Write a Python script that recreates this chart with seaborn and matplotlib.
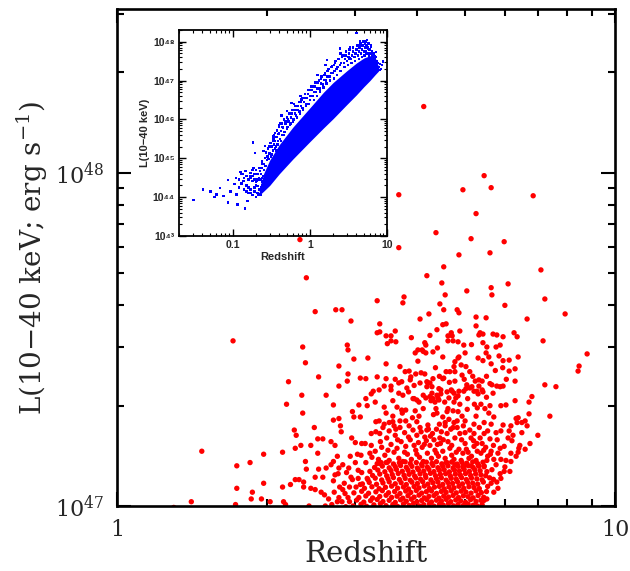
import matplotlib
matplotlib.use("Agg")
import matplotlib.pyplot as plt
import numpy as np
import pandas as pd
import seaborn as sns
from matplotlib.ticker import FixedLocator, FixedFormatter, LogLocator, NullFormatter

# ---------------- main panel data: (redshift, L / 1e47 erg s^-1) ----------------
red_bright = [
    (4.13, 15.8), (3.68, 8.59), (5.46, 9.80), (5.64, 9.02), (4.95, 8.89), (6.85, 8.53),
    (5.26, 7.54), (4.37, 6.61), (5.14, 6.34), (5.99, 6.21), (3.68, 5.96), (5.61, 5.75),
    (4.86, 5.67), (4.53, 5.22), (7.10, 5.11), (4.19, 4.91), (4.49, 4.67), (6.10, 4.64),
    (5.64, 4.52), (3.77, 4.24), (4.56, 4.30), (5.66, 4.30), (5.04, 4.42), (7.23, 4.18),
    (3.75, 4.07), (4.45, 4.04), (6.01, 4.00), (4.53, 3.88), (4.82, 3.88), (4.86, 3.80),
    (7.94, 3.77), (4.23, 3.77), (5.26, 3.69), (5.51, 3.67), (4.06, 3.64), (6.66, 3.64),
    (4.51, 3.50), (4.58, 3.52), (5.26, 3.47), (4.39, 3.38), (4.88, 3.35), (3.37, 3.52),
    (3.37, 3.33), (5.36, 3.31), (5.43, 3.28), (5.33, 3.26), (4.62, 3.24), (4.69, 3.31),
    (4.71, 3.24), (5.69, 3.28), (5.79, 3.26), (5.96, 3.22), (6.27, 3.31), (6.36, 3.22),
    (3.47, 3.24), (3.55, 3.24), (3.55, 3.13), (3.63, 3.11), (3.49, 3.07), (4.62, 3.13),
    (4.73, 3.13), (4.84, 3.11), (4.15, 3.09), (4.17, 3.04), (4.97, 3.04), (5.43, 3.09),
    (5.53, 3.00), (5.77, 3.00), (5.88, 3.04), (7.17, 3.13), (4.02, 2.94), (4.10, 2.94),
    (3.97, 2.88), (4.12, 2.91), (4.17, 2.88), (4.31, 2.90), (4.51, 2.80), (4.84, 2.78),
    (5.00, 2.88), (5.31, 2.78), (5.51, 2.88), (5.58, 2.80), (5.85, 2.82), (6.39, 2.80),
    (6.13, 2.74), (5.96, 2.73), (5.43, 2.73), (5.64, 2.67), (6.30, 2.58), (6.13, 2.54),
    (6.30, 2.37), (5.88, 2.28), (5.96, 2.29), (5.79, 2.29), (5.61, 2.33), (5.33, 2.39),
    (5.33, 2.29), (5.41, 2.23), (5.28, 2.21), (5.04, 2.31), (5.11, 2.26), (4.97, 2.21),
    (4.86, 2.21), (4.71, 2.21), (4.64, 2.11), (4.47, 2.17), (4.60, 2.20), (4.41, 2.11),
    (4.43, 2.08), (4.25, 2.13), (4.31, 2.10), (4.35, 2.05), (4.12, 2.15), (4.17, 2.11),
    (3.95, 2.10), (4.04, 2.05), (3.75, 2.15), (3.68, 2.18), (3.55, 2.23), (3.58, 2.07),
    (3.47, 2.41), (3.47, 2.67), (3.79, 2.53), (3.86, 2.54), (3.89, 2.44), (4.08, 2.51),
    (4.15, 2.49), (4.19, 2.36), (4.25, 2.34), (4.06, 2.34), (3.98, 2.49), (3.82, 2.26),
    (4.58, 2.53), (4.66, 2.53), (4.75, 2.62), (4.77, 2.53), (4.91, 2.65), (4.93, 2.47),
    (5.02, 2.62), (5.11, 2.53), (5.24, 2.37), (4.51, 2.41), (4.43, 2.25), (4.31, 2.41),
    (4.77, 2.37), (4.77, 2.71), (4.86, 2.80), (4.53, 2.42), (4.21, 2.34), (3.73, 2.36),
    (3.88, 2.39), (8.79, 2.86), (8.47, 2.63), (8.43, 2.54), (7.23, 2.31), (7.61, 2.28),
    (7.40, 1.86), (7.00, 1.63), (6.72, 1.89), (6.81, 2.13), (6.72, 2.05), (6.75, 1.54),
    (6.60, 1.48), (6.50, 1.78), (6.60, 1.80), (6.66, 1.74), (6.39, 1.84), (6.36, 1.78),
    (6.50, 1.66), (6.44, 1.52), (6.33, 1.41), (6.39, 1.45), (6.18, 1.36), (6.15, 1.27),
    (5.99, 1.27), (6.01, 1.31), (5.88, 1.25), (5.90, 1.21), (5.79, 1.18), (5.82, 1.13),
    (5.64, 1.17), (5.71, 1.10), (5.46, 1.04), (5.53, 1.05), (5.41, 1.01), (5.29, 1.00),
    (3.62, 3.35), (3.90, 3.20), (4.25, 3.25), (4.40, 2.98), (5.15, 3.05), (5.95, 2.60),
    (6.05, 2.40), (3.62, 2.40), (3.70, 2.62), (3.95, 2.30), (4.02, 2.72), (4.36, 2.60),
    (4.44, 2.45), (4.65, 2.35), (4.98, 2.40), (5.18, 2.45), (5.52, 2.45), (5.75, 2.55),
]

red_low_z = [
    (1.71, 3.13), (2.36, 3.00), (2.39, 2.69), (2.40, 4.84), (1.48, 1.46), (1.41, 1.03),
    (1.30, 0.99), (1.74, 1.32), (1.85, 1.35), (1.97, 1.43), (2.15, 1.45), (1.97, 1.17),
    (1.74, 1.13), (1.87, 1.10), (1.86, 1.05), (1.95, 1.05), (1.73, 1.01), (2.03, 1.03),
    (2.16, 1.03), (2.18, 1.01), (2.15, 1.14), (2.23, 1.16), (2.28, 1.20), (2.32, 1.20),
    (2.27, 1.69), (2.29, 1.63), (2.28, 1.49), (2.34, 1.52), (2.19, 2.02), (2.35, 2.15),
    (2.21, 2.36), (2.36, 1.90), (2.49, 1.72), (2.53, 1.59), (2.59, 1.59), (2.54, 2.44),
    (2.63, 2.15), (2.72, 2.01), (2.72, 1.81), (2.79, 1.83), (2.81, 1.74), (2.79, 2.63),
    (2.79, 2.29), (2.90, 3.04), (2.91, 2.94), (2.99, 2.76), (2.91, 2.49), (2.90, 2.37),
    (2.95, 3.59), (3.19, 2.78), (3.08, 2.42), (3.16, 2.41), (2.50, 3.83), (2.75, 3.88),
    (2.83, 3.88), (3.33, 4.13), (3.33, 3.31), (3.33, 2.44), (3.68, 2.34), (2.33, 6.30),
    (2.45, 1.52), (2.39, 1.36), (2.53, 1.44), (2.69, 1.56), (2.74, 1.52), (2.72, 1.36),
    (2.69, 1.33), (2.77, 1.41), (2.79, 1.30), (2.78, 1.25), (2.63, 1.30), (2.54, 1.29),
    (2.59, 1.22), (2.50, 1.22), (2.40, 1.29), (2.74, 1.24), (2.72, 1.19), (2.37, 1.18),
    (2.45, 1.13), (2.50, 1.12), (2.37, 1.14), (2.61, 1.08), (2.57, 1.10), (2.66, 1.05),
    (2.77, 1.03), (2.83, 1.03), (2.87, 1.09), (2.91, 1.06), (2.93, 1.14), (3.02, 1.14),
    (3.08, 1.16), (3.05, 1.21), (2.95, 1.22), (2.97, 1.20), (2.82, 1.67), (2.96, 1.60),
    (3.01, 1.55), (3.10, 1.54), (3.15, 1.54), (3.24, 1.52), (3.04, 1.43), (3.09, 1.42),
    (3.22, 1.44), (3.39, 1.35), (3.47, 1.35), (3.33, 1.34), (3.16, 1.35), (3.01, 1.35),
    (3.05, 1.28), (3.10, 1.26), (3.18, 1.21), (2.43, 1.00), (2.62, 1.00), (2.88, 0.995),
    (2.70, 1.01), (2.79, 1.06), (2.84, 1.12), (2.73, 1.10), (2.86, 1.17), (2.80, 1.14),
    (2.89, 1.26), (2.84, 1.33), (2.92, 1.30), (2.94, 1.41),
]

red_mid = [
    (2.97, 1.92), (2.99, 1.85), (3.08, 1.85), (3.06, 2.01), (3.18, 2.00), (3.16, 2.10),
    (3.24, 2.17), (3.27, 2.21), (3.36, 2.23), (3.44, 2.29), (3.55, 2.29), (3.30, 2.05),
    (3.44, 1.98), (3.47, 1.90), (3.65, 1.98), (3.80, 1.94), (3.73, 1.94), (3.58, 1.79),
    (3.52, 1.78), (3.44, 1.76), (3.36, 1.80), (3.31, 1.79), (3.31, 1.67), (3.37, 1.65),
    (3.24, 1.65), (3.60, 1.74), (3.63, 1.70), (3.70, 1.80), (3.80, 1.80), (4.00, 1.79),
    (3.93, 2.10), (4.00, 2.08), (3.97, 1.93), (4.04, 1.86), (4.19, 2.28), (4.27, 2.07),
    (4.29, 2.18), (4.39, 2.15), (4.29, 2.28), (4.47, 2.23), (4.37, 1.96), (4.39, 1.90),
    (4.51, 1.85), (4.60, 1.92), (4.21, 1.75), (4.19, 1.69), (4.75, 2.05), (4.79, 2.11),
    (4.69, 2.23), (4.62, 1.96), (4.73, 1.93), (4.75, 1.78), (4.56, 1.74), (4.73, 1.72),
    (4.75, 2.18), (4.84, 2.14), (5.02, 2.25), (5.16, 2.28), (5.21, 2.21), (5.31, 2.17),
    (5.43, 2.20), (5.41, 2.37), (5.66, 2.31), (5.69, 2.18), (5.38, 2.02), (5.29, 1.97),
    (5.48, 1.96), (5.61, 2.00), (5.90, 2.00), (6.04, 2.01), (6.30, 2.07), (4.88, 2.02),
    (4.56, 1.78), (4.82, 1.80), (4.93, 1.86), (5.00, 1.80), (5.21, 1.76), (5.46, 1.78),
    (5.71, 1.85), (5.64, 1.76), (5.96, 1.75), (6.18, 1.74), (6.33, 1.83), (6.13, 1.68),
    (6.24, 1.63), (5.90, 1.68), (5.77, 1.66), (5.36, 1.60), (5.46, 1.65), (5.21, 1.65),
    (5.11, 1.69), (5.00, 1.66), (4.82, 1.72), (4.88, 1.65), (4.77, 1.60), (4.60, 1.65),
    (5.61, 1.59), (6.10, 1.60), (6.21, 1.57), (6.41, 1.49), (5.88, 1.49), (5.99, 1.51),
    (5.64, 1.46), (5.41, 1.54), (5.21, 1.51), (5.29, 1.46), (5.00, 1.54), (5.07, 1.45),
    (4.86, 1.48), (4.66, 1.49), (4.51, 1.46), (6.18, 1.44), (6.04, 1.37), (5.90, 1.38),
    (5.71, 1.38), (5.77, 1.33), (5.53, 1.37), (5.46, 1.32), (5.26, 1.37), (5.33, 1.32),
    (5.09, 1.39), (5.14, 1.32), (4.91, 1.37), (4.97, 1.32), (4.75, 1.38), (4.77, 1.33),
    (4.58, 1.35), (4.56, 1.39),
    (3.35, 1.38), (3.45, 1.42), (3.52, 1.37), (3.60, 1.45), (3.68, 1.39), (3.75, 1.36),
    (3.83, 1.43), (3.90, 1.38), (3.98, 1.47), (4.05, 1.40), (4.12, 1.36), (4.20, 1.44),
    (4.28, 1.39), (4.35, 1.47), (4.42, 1.41), (3.40, 1.50), (3.55, 1.53), (3.65, 1.49),
    (3.72, 1.56), (3.80, 1.51), (3.88, 1.58), (3.95, 1.52), (4.03, 1.55), (4.10, 1.50),
    (4.18, 1.57), (4.25, 1.52), (4.33, 1.58), (4.40, 1.53), (3.48, 1.60), (3.62, 1.63),
    (3.78, 1.66), (3.85, 1.61), (3.93, 1.69), (4.00, 1.63), (4.08, 1.67), (4.15, 1.61),
    (4.30, 1.65), (4.38, 1.70), (3.70, 1.72), (4.22, 1.70), (3.52, 1.68), (4.45, 1.60),
    (4.48, 1.67), (3.30, 1.46), (3.25, 1.40), (4.70, 1.42), (4.95, 1.44), (5.15, 1.41),
    (5.38, 1.44), (5.55, 1.41), (5.20, 1.57), (4.92, 1.58), (5.70, 1.52), (4.62, 1.56),
    (5.50, 1.50),
    (3.42, 1.72), (3.58, 1.86), (3.66, 1.58), (3.74, 1.90), (3.86, 1.74), (3.92, 1.84),
    (4.06, 1.72), (4.12, 1.96), (4.26, 1.62), (4.32, 1.88), (4.44, 1.76), (4.52, 1.58),
    (4.64, 1.82), (4.68, 1.70), (4.84, 1.92), (4.96, 1.74), (5.05, 1.95), (5.14, 1.60),
    (5.26, 1.86), (5.34, 1.72), (5.55, 1.68), (5.58, 1.90), (5.80, 1.58), (3.38, 1.56),
    (3.50, 1.47), (3.78, 1.45), (4.00, 1.43), (4.14, 1.53), (4.38, 1.44), (4.46, 1.54),
    (4.70, 1.52), (4.80, 1.45), (5.03, 1.48), (5.28, 1.54), (5.45, 1.47), (5.62, 1.43),
    (5.82, 1.44), (3.85, 2.20), (4.55, 2.05), (5.06, 2.10), (5.22, 2.02), (5.52, 2.12),
]

red_crowd = [
    (2.98, 1.000), (3.09, 1.012), (3.17, 0.998), (3.28, 1.008), (3.38, 1.016), (3.47, 1.002),
    (3.58, 1.010), (3.66, 0.997), (3.76, 1.014), (3.86, 1.004), (3.94, 1.018), (4.05, 1.000),
    (4.13, 1.009), (4.24, 1.015), (4.33, 0.999), (4.44, 1.011), (4.52, 1.006), (4.63, 1.017),
    (4.74, 1.001), (4.84, 1.010), (4.96, 1.003), (5.07, 1.013), (5.19, 1.005),
    (2.93, 1.030), (3.03, 1.042), (3.13, 1.027), (3.23, 1.038), (3.33, 1.046), (3.42, 1.031),
    (3.52, 1.040), (3.62, 1.025), (3.71, 1.044), (3.81, 1.033), (3.90, 1.048), (4.00, 1.029),
    (4.09, 1.039), (4.19, 1.045), (4.28, 1.028), (4.38, 1.041), (4.48, 1.034), (4.58, 1.047),
    (4.68, 1.030), (4.79, 1.043), (4.90, 1.036), (5.01, 1.026), (5.13, 1.045), (5.26, 1.032),
    (5.38, 1.040),
    (3.06, 1.060), (3.16, 1.072), (3.26, 1.057), (3.37, 1.068), (3.47, 1.077), (3.56, 1.061),
    (3.65, 1.070), (3.75, 1.055), (3.84, 1.074), (3.95, 1.063), (4.04, 1.078), (4.14, 1.058),
    (4.23, 1.069), (4.33, 1.075), (4.43, 1.056), (4.53, 1.071), (4.63, 1.064), (4.73, 1.076),
    (4.85, 1.060), (4.96, 1.073), (5.07, 1.066), (5.19, 1.058), (5.31, 1.075), (5.45, 1.062),
    (2.99, 1.095), (3.10, 1.107), (3.20, 1.092), (3.31, 1.103), (3.41, 1.112), (3.51, 1.096),
    (3.61, 1.105), (3.70, 1.090), (3.80, 1.109), (3.89, 1.098), (3.99, 1.113), (4.09, 1.093),
    (4.18, 1.104), (4.28, 1.110), (4.38, 1.091), (4.48, 1.106), (4.58, 1.099), (4.69, 1.111),
    (4.80, 1.095), (4.91, 1.108), (5.02, 1.101), (5.14, 1.093), (5.26, 1.110), (5.39, 1.097),
    (5.52, 1.105),
    (3.14, 1.130), (3.25, 1.142), (3.36, 1.127), (3.46, 1.138), (3.56, 1.147), (3.66, 1.131),
    (3.76, 1.140), (3.85, 1.125), (3.95, 1.144), (4.04, 1.133), (4.14, 1.148), (4.24, 1.128),
    (4.34, 1.139), (4.44, 1.145), (4.54, 1.126), (4.64, 1.141), (4.75, 1.134), (4.86, 1.146),
    (4.97, 1.130), (5.09, 1.143), (5.21, 1.136), (5.34, 1.128), (5.55, 1.145),
    (3.11, 1.165), (3.21, 1.177), (3.32, 1.162), (3.42, 1.173), (3.52, 1.182), (3.62, 1.166),
    (3.72, 1.175), (3.81, 1.160), (3.91, 1.179), (4.01, 1.168), (4.11, 1.183), (4.21, 1.163),
    (4.31, 1.174), (4.41, 1.180), (4.51, 1.161), (4.62, 1.176), (4.72, 1.169), (4.83, 1.181),
    (4.94, 1.165), (5.06, 1.178), (5.18, 1.171), (5.30, 1.163), (5.44, 1.180),
    (3.19, 1.200), (3.30, 1.212), (3.40, 1.197), (3.50, 1.208), (3.59, 1.217), (3.69, 1.201),
    (3.79, 1.210), (3.88, 1.195), (3.98, 1.214), (4.07, 1.203), (4.17, 1.218), (4.27, 1.198),
    (4.38, 1.209), (4.48, 1.215), (4.58, 1.196), (4.69, 1.211), (4.80, 1.204), (4.92, 1.216),
    (5.03, 1.200), (5.15, 1.213), (5.28, 1.206), (5.41, 1.198), (5.60, 1.215), (5.70, 1.202),
    (3.26, 1.235), (3.37, 1.247), (3.48, 1.232), (3.57, 1.243), (3.67, 1.252), (3.77, 1.236),
    (3.86, 1.245), (3.96, 1.230), (4.06, 1.249), (4.16, 1.238), (4.26, 1.253), (4.36, 1.233),
    (4.46, 1.244), (4.57, 1.250), (4.67, 1.231), (4.78, 1.246), (4.89, 1.239), (5.01, 1.251),
    (5.13, 1.235), (5.25, 1.248), (5.38, 1.241), (5.50, 1.233),
    (3.22, 1.270), (3.34, 1.282), (3.45, 1.267), (3.55, 1.278), (3.64, 1.287), (3.74, 1.271),
    (3.84, 1.280), (3.93, 1.265), (4.03, 1.284), (4.13, 1.273), (4.23, 1.288), (4.33, 1.268),
    (4.44, 1.279), (4.54, 1.285), (4.65, 1.266), (4.76, 1.281), (4.87, 1.274), (4.98, 1.286),
    (5.10, 1.270), (5.23, 1.283), (5.36, 1.276), (5.53, 1.268), (5.66, 1.285),
    (3.29, 1.305), (3.41, 1.317), (3.52, 1.302), (3.62, 1.313), (3.71, 1.322), (3.81, 1.306),
    (3.91, 1.315), (4.01, 1.300), (4.10, 1.319), (4.20, 1.308), (4.31, 1.323), (4.41, 1.303),
    (4.51, 1.314), (4.62, 1.320), (4.73, 1.301), (4.84, 1.316), (4.95, 1.309), (5.07, 1.321),
    (5.19, 1.305), (5.32, 1.318), (5.46, 1.311),
    (3.38, 1.340), (3.49, 1.352), (3.59, 1.337), (3.69, 1.348), (3.79, 1.357), (3.88, 1.341),
    (3.99, 1.350), (4.09, 1.335), (4.18, 1.354), (4.29, 1.343), (4.38, 1.358), (4.49, 1.338),
    (4.60, 1.349), (4.70, 1.355), (4.82, 1.336), (4.93, 1.351), (5.04, 1.344), (5.18, 1.356),
    (5.30, 1.340), (5.43, 1.353),
]

# ---------------- inset data: full sample (redshift, log10 L) ----------------
band_z = [0.22, 0.25, 0.30, 0.40, 0.60, 1.00, 1.50, 2.00, 3.00, 4.00, 5.00, 6.00, 7.00, 7.80]
band_logL_lo = [44.05, 44.15, 44.30, 44.60, 44.98, 45.43, 45.78, 46.02, 46.38, 46.63, 46.84, 47.00, 47.15, 47.25]
band_logL_hi = [44.20, 44.60, 44.95, 45.35, 45.80, 46.30, 46.70, 46.95, 47.25, 47.45, 47.58, 47.64, 47.60, 47.35]

blue_outliers = [
    (0.031, 43.92), (0.041, 44.20), (0.051, 44.15), (0.058, 44.00), (0.061, 44.07),
    (0.068, 44.24), (0.076, 44.03), (0.086, 43.86), (0.087, 44.44), (0.093, 44.15),
    (0.105, 44.34), (0.111, 44.07), (0.115, 43.81), (0.125, 44.65), (0.133, 44.60),
    (0.138, 44.41), (0.144, 43.71), (0.145, 44.67), (0.155, 43.90), (0.160, 44.24),
    (0.168, 44.54), (0.186, 44.75), (0.195, 45.14), (0.182, 45.41), (0.205, 44.41),
    (0.215, 44.07), (0.226, 44.67), (0.238, 44.92), (0.250, 45.18), (0.263, 45.31),
    (0.305, 45.39), (0.336, 45.56), (0.430, 46.10), (0.400, 45.86), (0.500, 46.21),
    (0.580, 46.42), (0.780, 46.51), (1.05, 46.85), (1.42, 47.10), (1.67, 47.53),
    (2.44, 47.83), (2.04, 47.40), (3.28, 47.57), (4.42, 47.92), (5.38, 48.00),
    (5.65, 47.83), (7.25, 47.74), (4.00, 48.22), (8.80, 47.49), (8.00, 47.27),
    (0.15, 44.30), (0.16, 44.45), (0.17, 44.20), (0.18, 44.55), (0.19, 44.25),
    (0.20, 44.40), (0.21, 44.10), (0.22, 44.50), (0.23, 44.25), (0.24, 44.40),
    (0.16, 44.10), (0.18, 44.05), (0.20, 44.00), (0.14, 44.50), (0.13, 44.35),
    (0.23, 44.05), (0.17, 44.62), (0.15, 44.15), (0.21, 44.28), (0.19, 44.60),
    (0.20, 44.70), (0.21, 44.45), (0.22, 44.20), (0.23, 44.15), (0.24, 44.30),
    (0.24, 44.50), (0.25, 44.30), (0.20, 44.30), (0.19, 44.15), (0.18, 44.42),
    (0.17, 44.50), (0.16, 44.25), (0.15, 44.55), (0.14, 44.20), (0.13, 44.60),
    (0.12, 44.45), (0.12, 44.25), (0.11, 44.50), (0.21, 44.60), (0.22, 44.75),
    (0.23, 44.45), (0.24, 44.85), (0.18, 44.70), (0.17, 44.10), (0.19, 44.45),
]

blue_upper = [
    (0.220, 44.45), (0.230, 44.60), (0.235, 44.75), (0.245, 44.55), (0.250, 44.85),
    (0.255, 44.70), (0.260, 45.00), (0.265, 44.80), (0.270, 45.15), (0.275, 44.95),
    (0.280, 45.05), (0.285, 45.25), (0.290, 44.98), (0.295, 45.30), (0.300, 45.12),
    (0.310, 45.40), (0.315, 45.05), (0.320, 45.30), (0.330, 45.20), (0.335, 45.50),
    (0.340, 45.35), (0.350, 45.45), (0.355, 45.65), (0.360, 45.30), (0.370, 45.55),
    (0.375, 45.72), (0.385, 45.45), (0.390, 45.62), (0.400, 45.80), (0.410, 45.50),
    (0.420, 45.70), (0.430, 45.90), (0.440, 45.60), (0.450, 45.78), (0.460, 46.00),
    (0.470, 45.68), (0.480, 45.88), (0.500, 46.05), (0.510, 45.80), (0.530, 45.95),
    (0.540, 46.15), (0.560, 45.90), (0.570, 46.05), (0.590, 46.25), (0.610, 46.00),
    (0.640, 46.15), (0.650, 46.35), (0.680, 46.05), (0.690, 46.25), (0.720, 46.45),
    (0.740, 46.15), (0.760, 46.35), (0.790, 46.55), (0.820, 46.25), (0.840, 46.45),
    (0.870, 46.65), (0.890, 46.35), (0.920, 46.55), (0.960, 46.75), (0.980, 46.40),
    (1.02, 46.60), (1.07, 46.85), (1.12, 46.50), (1.14, 46.70), (1.18, 46.95),
    (1.23, 46.60), (1.26, 46.80), (1.30, 47.00), (1.36, 46.72), (1.38, 46.92),
    (1.44, 47.10), (1.50, 46.82), (1.52, 47.02), (1.58, 47.20), (1.65, 46.92),
    (1.68, 47.10), (1.75, 47.30), (1.83, 47.00), (1.86, 47.20), (1.95, 47.38),
    (2.05, 47.05), (2.08, 47.25), (2.15, 47.50), (2.25, 47.15), (2.28, 47.35),
    (2.38, 47.55), (2.50, 47.25), (2.55, 47.45), (2.65, 47.65), (2.80, 47.35),
    (2.85, 47.55), (2.95, 47.75), (3.10, 47.40), (3.15, 47.60), (3.25, 47.80),
    (3.45, 47.45), (3.50, 47.65), (3.65, 47.85), (3.85, 47.50), (3.90, 47.70),
    (4.10, 47.90), (4.30, 47.55), (4.35, 47.75), (4.55, 47.95), (4.70, 47.60),
    (4.75, 47.80), (4.95, 48.00), (5.10, 47.65), (5.15, 47.85), (5.30, 47.75),
    (5.45, 47.90), (5.70, 47.70), (5.75, 47.95), (5.90, 47.80), (6.10, 47.70),
    (6.15, 47.88), (6.40, 47.75), (6.50, 47.65), (6.80, 47.70), (6.90, 47.62),
    (7.20, 47.60), (7.60, 47.45), (8.10, 47.42), (8.60, 47.40),
    (0.31, 45.30), (0.32, 45.10), (0.33, 45.45), (0.35, 45.25), (0.36, 45.55),
    (0.38, 45.35), (0.40, 45.65), (0.42, 45.45), (0.44, 45.80), (0.46, 45.60),
    (0.48, 45.95), (0.50, 45.75), (0.34, 45.60), (0.41, 45.90), (0.37, 45.20),
    (0.52, 46.00), (0.55, 45.85), (0.58, 46.15), (0.60, 45.95), (0.63, 46.25),
    (0.66, 46.10), (0.70, 46.35), (0.73, 46.20), (0.77, 46.45), (0.80, 46.30),
    (0.85, 46.55), (0.90, 46.40), (0.95, 46.65), (1.00, 46.50), (0.62, 46.40),
    (0.75, 46.60), (1.05, 46.75), (1.10, 46.60), (1.15, 46.85), (1.20, 46.70),
    (1.27, 46.95), (1.33, 46.80), (1.40, 47.05), (1.47, 46.90), (1.55, 47.15),
    (1.62, 47.00), (1.70, 47.25), (1.80, 47.10), (1.90, 47.35), (2.00, 47.20),
    (1.25, 47.15), (1.60, 47.40), (2.10, 47.45), (2.20, 47.30), (2.30, 47.55),
    (2.45, 47.40), (2.60, 47.60), (2.75, 47.45), (2.90, 47.65), (3.05, 47.50),
    (3.20, 47.70), (3.40, 47.55), (3.60, 47.75), (3.80, 47.60), (4.00, 47.80),
    (2.50, 47.70), (3.30, 47.85), (4.20, 47.65), (4.40, 47.85), (4.60, 47.70),
    (4.80, 47.90), (5.00, 47.75), (5.20, 47.95), (5.40, 47.70), (5.60, 47.85),
    (5.80, 47.65), (6.00, 47.80), (6.30, 47.70), (6.60, 47.60), (7.00, 47.55),
    (7.40, 47.50), (7.80, 47.35), (8.30, 47.30), (4.50, 48.00), (5.50, 48.05),
    (6.20, 47.90),
]

main_xticks = [1, 10]
main_xticklabels = ["1", "10"]
main_yticks = [1e47, 1e48]
main_yticklabels = [r"$10^{47}$", r"$10^{48}$"]
inset_xticks = [0.1, 1, 10]
inset_xticklabels = ["0.1", "1", "10"]
inset_yticks = [1e43, 1e44, 1e45, 1e46, 1e47, 1e48]
inset_yticklabels = ["10\u2074\u00b3", "10\u2074\u2074", "10\u2074\u2075",
                     "10\u2074\u2076", "10\u2074\u2077", "10\u2074\u2078"]

# ---------------- figure ----------------
sns.set_style("ticks")
plt.rcParams["font.family"] = ["DejaVu Serif"]
plt.rcParams["mathtext.fontset"] = "dejavuserif"

W, H = 630, 571
fig = plt.figure(figsize=(W / 100, H / 100), dpi=100)
fig.patch.set_facecolor("white")

ax = fig.add_axes([117 / W, 1 - 506 / H, 498 / W, 497 / H])
ax.set_xscale("log")
ax.set_yscale("log")

red_all = red_bright + red_low_z + red_mid + red_crowd
df_red = pd.DataFrame(red_all, columns=["z", "L47"])
df_red["L"] = df_red["L47"] * 1e47
sns.scatterplot(data=df_red, x="z", y="L", ax=ax, color="#ff0000", s=15,
                linewidth=0, edgecolor="none", legend=False, zorder=2)

ax.set_xlim(1, 10)
ax.set_ylim(1e47, 3.1e48)
ax.xaxis.set_major_locator(FixedLocator(main_xticks))
ax.xaxis.set_major_formatter(FixedFormatter(main_xticklabels))
ax.xaxis.set_minor_locator(LogLocator(base=10, subs=np.arange(2, 10), numticks=20))
ax.xaxis.set_minor_formatter(NullFormatter())
ax.yaxis.set_major_locator(FixedLocator(main_yticks))
ax.yaxis.set_major_formatter(FixedFormatter(main_yticklabels))
ax.yaxis.set_minor_locator(LogLocator(base=10, subs=np.arange(2, 10), numticks=20))
ax.yaxis.set_minor_formatter(NullFormatter())
ax.tick_params(which="both", direction="in", top=True, right=True, color="black")
ax.tick_params(which="major", length=10, width=1.5, labelsize=16, pad=9)
ax.tick_params(which="minor", length=5, width=1.5)
for sp in ax.spines.values():
    sp.set_linewidth(1.9)
    sp.set_color("black")
ax.set_xlabel("Redshift", fontsize=21)
ax.set_ylabel(r"L(10$-$40 keV; erg s$^{-1}$)", fontsize=20)
ax.xaxis.set_label_coords(0.5, -0.068)
ax.yaxis.set_label_coords(-0.135, 0.5)

# ---------------- inset ----------------
ax_in = fig.add_axes([179 / W, 1 - 236 / H, 208 / W, 206 / H])
ax_in.set_zorder(5)
ax_in.set_facecolor("white")
ax_in.set_xscale("log")
ax_in.set_yscale("log")
ax_in.fill_between(band_z, [10 ** v for v in band_logL_lo], [10 ** v for v in band_logL_hi],
                   color="#0000ff", linewidth=0, zorder=2)
df_blue = pd.DataFrame(blue_outliers + blue_upper, columns=["z", "logL"])
df_blue["L"] = 10 ** df_blue["logL"]
sns.scatterplot(data=df_blue, x="z", y="L", ax=ax_in, color="#0000ff", s=3, marker="s",
                linewidth=0, edgecolor="none", legend=False, zorder=3)
ax_in.set_xlim(0.02, 10)
ax_in.set_ylim(1e43, 2e48)
ax_in.xaxis.set_major_locator(FixedLocator(inset_xticks))
ax_in.xaxis.set_major_formatter(FixedFormatter(inset_xticklabels))
ax_in.xaxis.set_minor_locator(LogLocator(base=10, subs=np.arange(2, 10), numticks=20))
ax_in.xaxis.set_minor_formatter(NullFormatter())
ax_in.yaxis.set_major_locator(FixedLocator(inset_yticks))
ax_in.yaxis.set_major_formatter(FixedFormatter(inset_yticklabels))
ax_in.yaxis.set_minor_locator(LogLocator(base=10, subs=np.arange(2, 10), numticks=20))
ax_in.yaxis.set_minor_formatter(NullFormatter())
ax_in.tick_params(which="both", direction="in", top=True, right=True, color="black")
ax_in.tick_params(which="major", length=5, width=1.0, labelsize=7.5, pad=3)
ax_in.tick_params(which="minor", length=2.5, width=0.8)
for lbl in ax_in.get_xticklabels() + ax_in.get_yticklabels():
    lbl.set_fontfamily(["Liberation Sans", "DejaVu Sans"])
    lbl.set_fontweight("bold")
for sp in ax_in.spines.values():
    sp.set_linewidth(1.3)
    sp.set_color("black")
ax_in.set_xlabel("Redshift", fontsize=8, fontweight="bold",
                 fontfamily=["Liberation Sans", "DejaVu Sans"], labelpad=1)
ax_in.set_ylabel("L(10\u221240 keV)", fontsize=8, fontweight="bold",
                 fontfamily=["Liberation Sans", "DejaVu Sans"], labelpad=2)

fig.savefig("out.png", dpi=100, facecolor="white")
